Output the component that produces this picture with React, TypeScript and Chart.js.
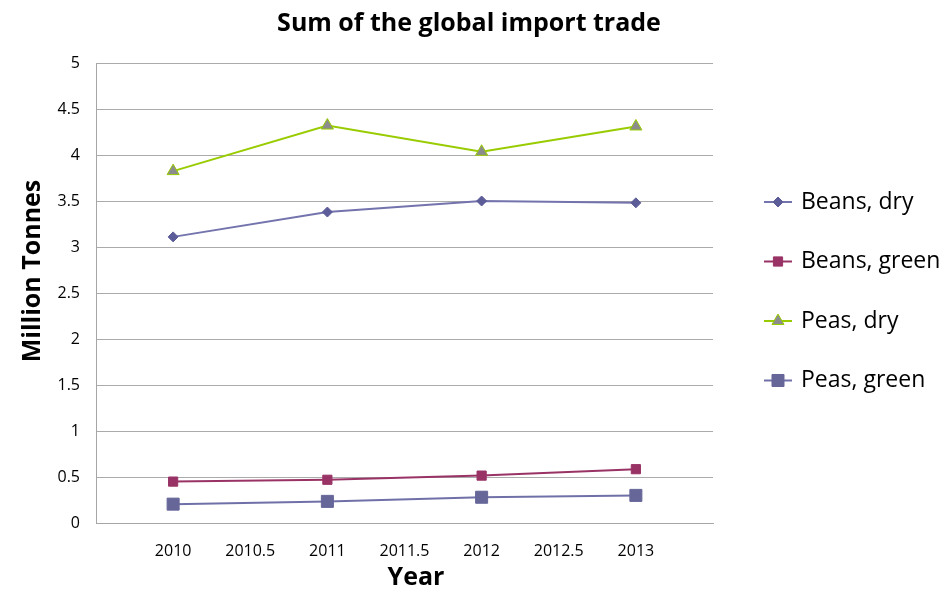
import React, { useEffect, useRef } from "react";
import { Chart, registerables } from "chart.js";
import { drawPoint } from "chart.js/helpers";

Chart.register(...registerables);

const years = [2010, 2011, 2012, 2013];
const beansDry = [3.11, 3.38, 3.5, 3.48];
const beansGreen = [0.45, 0.47, 0.515, 0.585];
const peasDry = [3.825, 4.32, 4.035, 4.31];
const peasGreen = [0.205, 0.235, 0.28, 0.3];
const seriesNames = ["Beans, dry", "Beans, green", "Peas, dry", "Peas, green"];
const chartTitle = "Sum of the global import trade";
const xTitle = "Year";
const yTitle = "Million Tonnes";

const FONT = "'Open Sans', 'Liberation Sans', sans-serif";

const toPoints = (vals: number[]) => years.map((x, i) => ({ x, y: vals[i] }));

const extrasPlugin = {
  id: "extras",
  afterDraw(chart: any) {
    const ctx = chart.ctx as CanvasRenderingContext2D;
    const area = chart.chartArea;
    ctx.save();
    ctx.fillStyle = "#000";
    ctx.textAlign = "center";
    ctx.textBaseline = "middle";
    // chart title
    ctx.font = `bold 25px ${FONT}`;
    ctx.fillText(chartTitle, 469, 24);
    // axis titles
    ctx.font = `bold 25px ${FONT}`;
    ctx.fillText(xTitle, area.left + 320, chart.height - 12);
    ctx.save();
    ctx.translate(33, area.top + 208);
    ctx.rotate(-Math.PI / 2);
    ctx.fillText(yTitle, 0, 0);
    ctx.restore();
    // legend
    const lx = area.right + 51;
    chart.data.datasets.forEach((ds: any, i: number) => {
      const y = 202 + i * 59.5;
      ctx.strokeStyle = ds.borderColor;
      ctx.lineWidth = 2;
      ctx.beginPath();
      ctx.moveTo(lx, y);
      ctx.lineTo(lx + 28, y);
      ctx.stroke();
      ctx.fillStyle = ds.pointBackgroundColor;
      ctx.strokeStyle = ds.pointBorderColor;
      ctx.lineWidth = 1;
      drawPoint(ctx, { pointStyle: ds.pointStyle, radius: ds.pointRadius, borderWidth: 1, rotation: 0 } as any, lx + 14, y);
      ctx.fillStyle = "#000";
      ctx.font = `23px ${FONT}`;
      ctx.textAlign = "left";
      ctx.textBaseline = "middle";
      ctx.fillText(ds.label, lx + 37, y);
    });
    ctx.restore();
  },
};

export default function App() {
  const ref = useRef<HTMLCanvasElement>(null);
  useEffect(() => {
    if (!ref.current) return;
    const chart = new Chart(ref.current, {
      type: "line",
      data: {
        datasets: [
          {
            label: seriesNames[0],
            data: toPoints(beansDry),
            borderColor: "#7373AD",
            borderWidth: 2,
            pointStyle: "rectRot",
            pointRadius: 5,
            pointBackgroundColor: "#5C5C99",
            pointBorderColor: "#5C5C99",
            pointBorderWidth: 1,
          },
          {
            label: seriesNames[1],
            data: toPoints(beansGreen),
            borderColor: "#993366",
            borderWidth: 2,
            pointStyle: "rect",
            pointRadius: 6.5,
            pointBackgroundColor: "#993366",
            pointBorderColor: "#993366",
            pointBorderWidth: 1,
          },
          {
            label: seriesNames[2],
            data: toPoints(peasDry),
            borderColor: "#99CC00",
            borderWidth: 2,
            pointStyle: "triangle",
            pointRadius: 7,
            pointBackgroundColor: "#8C8C8C",
            pointBorderColor: "#99CC00",
            pointBorderWidth: 1,
          },
          {
            label: seriesNames[3],
            data: toPoints(peasGreen),
            borderColor: "#7070A8",
            borderWidth: 2,
            pointStyle: "rect",
            pointRadius: 8.5,
            pointBackgroundColor: "#666699",
            pointBorderColor: "#666699",
            pointBorderWidth: 1,
          },
        ],
      },
      options: {
        responsive: false,
        animation: false,
        devicePixelRatio: 1,
        layout: { padding: { left: 0, right: 232, top: 63, bottom: 0 } },
        plugins: {
          legend: { display: false },
          tooltip: { enabled: false },
          title: { display: false },
        },
        scales: {
          x: {
            type: "linear",
            min: 2009.5,
            max: 2013.5,
            afterFit: (s: any) => { s.height = 67; },
            afterBuildTicks: (s: any) => {
              s.ticks = s.ticks.filter((t: any) => t.value >= 2010 && t.value <= 2013);
            },
            ticks: {
              stepSize: 0.5,
              padding: 19,
              color: "#000",
              font: { family: FONT, size: 16 },
              callback: (v: any) => String(v),
              maxRotation: 0,
              autoSkip: false,
            },
            grid: { display: false, drawTicks: false },
            border: { display: true, color: "#A6A6A6", width: 1 },
          },
          y: {
            min: 0,
            max: 5,
            afterFit: (s: any) => { s.width = 96; },
            ticks: {
              stepSize: 0.5,
              padding: 16,
              color: "#000",
              font: { family: FONT, size: 16 },
              callback: (v: any) => String(v),
            },
            grid: { color: "#ABABAB", lineWidth: 1, drawTicks: false },
            border: { display: true, color: "#A6A6A6", width: 1 },
          },
        },
      },
      plugins: [extrasPlugin],
    } as any);
    return () => chart.destroy();
  }, []);
  return (
    <div style={{ position: "absolute", left: 0, top: 0, width: 945, height: 590, background: "#fff" }}>
      <canvas ref={ref} width={945} height={590} style={{ display: "block" }} />
    </div>
  );
}
